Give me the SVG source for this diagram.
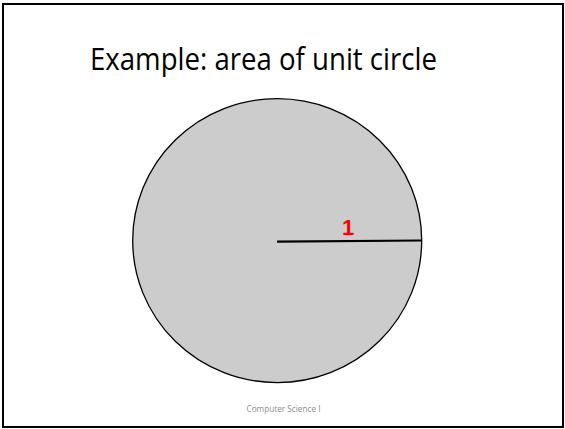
<svg xmlns="http://www.w3.org/2000/svg" width="565" height="429" viewBox="0 0 565 429">
<style>
.title{font-family:"Open Sans","Liberation Sans",Arial,sans-serif;font-size:31px;fill:#000}
.foot{font-family:"Open Sans","Liberation Sans",Arial,sans-serif;font-size:8.5px;fill:#8c8c8c}
.lbl{font-family:"Liberation Sans",Arial,sans-serif;font-size:22px;font-weight:bold;fill:#ff0000}
</style>
<rect x="0" y="0" width="565" height="429" fill="#fff"/>
<rect x="3" y="4" width="560" height="423" fill="none" stroke="#000" stroke-width="2"/>
<text class="title" x="90" y="70" textLength="347" lengthAdjust="spacingAndGlyphs">Example: area of unit circle</text>
<g id="circle">
<ellipse cx="277.2" cy="240.6" rx="144.5" ry="142" fill="#cccccc" stroke="#000" stroke-width="1.3"/>
</g>
<g id="connectors">
<line x1="277" y1="241.7" x2="421.5" y2="240.5" stroke="#000" stroke-width="2.2"/>
</g>
<text class="lbl" x="348" y="234.5" text-anchor="middle">1</text>
<text class="foot" x="283.5" y="411.5" text-anchor="middle" textLength="74" lengthAdjust="spacingAndGlyphs">Computer Science I</text>
</svg>
